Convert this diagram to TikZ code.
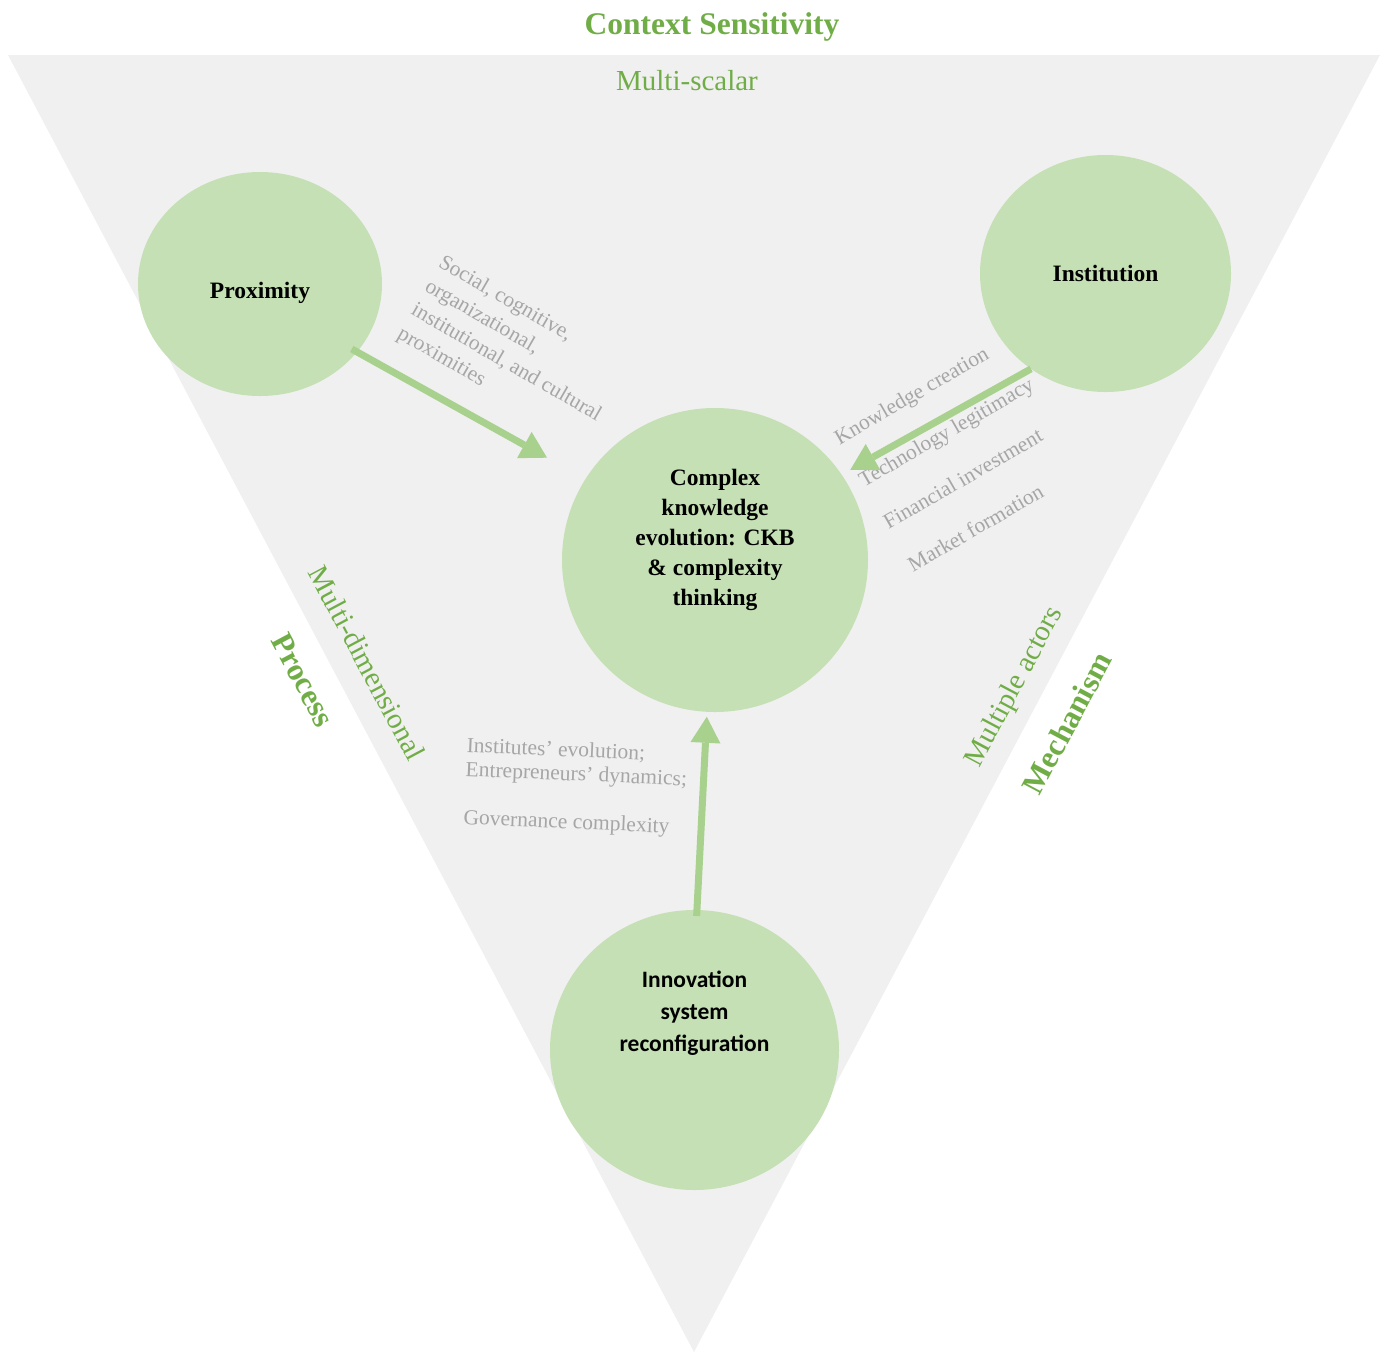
\documentclass[tikz,border=0pt]{standalone}
\usepackage{fontspec}
\setmainfont{Liberation Serif}
\newfontfamily\carlito{Carlito}
\usetikzlibrary{shapes.geometric,arrows.meta}
\definecolor{ctxgreen}{HTML}{70AD47}
\definecolor{blobgreen}{HTML}{C5E0B4}
\definecolor{arrgreen}{HTML}{A9D18E}
\definecolor{notegray}{HTML}{A6A6A6}
\definecolor{backgray}{HTML}{F0F0F0}

\begin{document}
\begin{tikzpicture}[x=1pt,y=-1pt,
  blob/.style={ellipse,fill=blobgreen,inner sep=0pt,outer sep=0pt,align=center,
    font=\fontsize{23.5}{30}\selectfont\bfseries},
  note/.style={text=notegray,inner sep=0pt,align=left,
    font=\fontsize{21.5}{27.5}\selectfont},
  side/.style={text=ctxgreen,font=\fontsize{29}{34}\selectfont},
  head/.style={text=ctxgreen,font=\fontsize{31.5}{36}\selectfont\bfseries},
  arr/.style={color=arrgreen,line width=7pt,-{Triangle[length=26pt,width=30pt,line width=0pt]}}]
\useasboundingbox (0,0) rectangle (1387,1353);
\fill[backgray] (8,55) -- (1380,55) -- (694,1352) -- cycle;

% titles along the triangle
\node[head] (ctx) at (712,27) {Context Sensitivity};
\node[side] (scal) at (687,81) {Multi-scalar};
\node[head,rotate=-62] (proc) at (303,680) {Process};
\node[side,rotate=-62] (dim) at (367,663) {Multi-dimensional};
\node[head,rotate=62] (mech) at (1067,723) {Mechanism};
\node[side,rotate=62] (act) at (1015,687) {Multiple actors};

% the four blobs
\node[blob,minimum width=244pt,minimum height=224pt,text height=34pt] (prox) at (260,284) {Proximity};
\node[blob,minimum width=251pt,minimum height=237pt] (inst) at (1105.5,273.5) {Institution};
\node[blob,minimum width=306pt,minimum height=304pt,text depth=45pt] (ckb) at (715,560)
  {Complex\\knowledge\\evolution: CKB\\\& complexity\\thinking};
\node[blob,minimum width=289pt,minimum height=280pt,text depth=77pt,
  font=\carlito\fontsize{23.5}{32}\selectfont\bfseries] (isr) at (694.5,1050)
  {Innovation\\system\\reconfiguration};

% notes
\node[note,rotate=-30,anchor=north west] (proxnote) at (445,253)
  {Social, cognitive,\\organizational,\\institutional, and cultural\\proximities};
\node[note,rotate=30,anchor=north west,font=\fontsize{21.5}{49}\selectfont] (instnote) at (832,432)
  {Knowledge creation\\Technology legitimacy\\Financial investment\\Market formation};
\node[note,rotate=-2.5,anchor=north west,font=\fontsize{21.5}{24}\selectfont] (isrnote) at (467,737)
  {Institutes' evolution;\\Entrepreneurs' dynamics;\\[24pt]Governance complexity};

\path[arr] (prox.325) edge[shorten <=-6pt,shorten >=44pt] (ckb.148)
  (inst.232) edge[shorten >=10pt] (ckb.34)
  (isr.89) edge[shorten <=-6pt,shorten >=5pt] (ckb.267);
\end{tikzpicture}
\end{document}
